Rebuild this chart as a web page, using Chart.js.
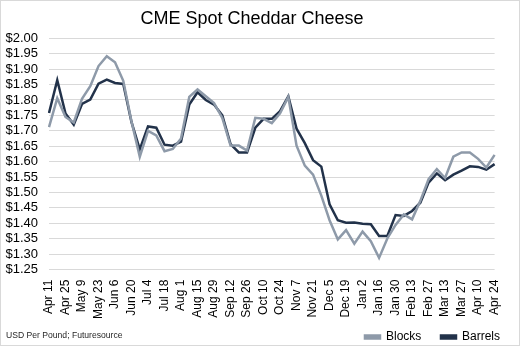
<!DOCTYPE html>
<html>
<head>
<meta charset="utf-8">
<script src="https://cdn.jsdelivr.net/npm/chart.js@4"></script>
<style>
  body { margin: 0; background: #fff; }
  #wrap { position: relative; width: 520px; height: 346px; box-sizing: border-box; border: 1px solid #d9d9d9; }
  #nota { position: absolute; left: 5px; top: 329px; font: 8.6px "Liberation Sans", Arial, sans-serif; color: #262626; }
</style>
</head>
<body>
<div id="wrap">
  <canvas id="grafico" width="518" height="344"></canvas>
  <div id="nota">USD Per Pound; Futuresource</div>
</div>
<script>
// semanas (se etiqueta una de cada dos)
const semanas = [
  'Apr 11', 'Apr 18', 'Apr 25', 'May 2', 'May 9', 'May 16', 'May 23', 'May 30',
  'Jun 6', 'Jun 13', 'Jun 20', 'Jun 27', 'Jul 4', 'Jul 11', 'Jul 18', 'Jul 25',
  'Aug 1', 'Aug 8', 'Aug 15', 'Aug 22', 'Aug 29', 'Sep 5', 'Sep 12', 'Sep 19',
  'Sep 26', 'Oct 3', 'Oct 10', 'Oct 17', 'Oct 24', 'Oct 31', 'Nov 7', 'Nov 14',
  'Nov 21', 'Nov 28', 'Dec 5', 'Dec 12', 'Dec 19', 'Dec 26', 'Jan 2', 'Jan 9',
  'Jan 16', 'Jan 23', 'Jan 30', 'Feb 6', 'Feb 13', 'Feb 20', 'Feb 27', 'Mar 6',
  'Mar 13', 'Mar 20', 'Mar 27', 'Apr 3', 'Apr 10', 'Apr 17', 'Apr 24'
];

const blocks = [
  1.712, 1.806, 1.745, 1.727, 1.804, 1.845, 1.910, 1.942, 1.922, 1.862,
  1.730, 1.616, 1.700, 1.685, 1.634, 1.641, 1.675, 1.810, 1.834, 1.812,
  1.790, 1.742, 1.652, 1.652, 1.636, 1.742, 1.739, 1.725, 1.757, 1.810,
  1.652, 1.587, 1.558, 1.490, 1.410, 1.348, 1.378, 1.334, 1.373, 1.342,
  1.288, 1.351, 1.395, 1.429, 1.413, 1.473, 1.543, 1.576, 1.547, 1.616,
  1.630, 1.630, 1.609, 1.581, 1.622
];

const barrels = [
  1.758, 1.864, 1.756, 1.720, 1.787, 1.801, 1.853, 1.866, 1.855, 1.852,
  1.728, 1.640, 1.714, 1.710, 1.655, 1.652, 1.665, 1.785, 1.825, 1.800,
  1.785, 1.750, 1.657, 1.630, 1.630, 1.710, 1.739, 1.739, 1.764, 1.812,
  1.707, 1.660, 1.605, 1.584, 1.462, 1.410, 1.402, 1.403, 1.399, 1.397,
  1.359, 1.359, 1.427, 1.424, 1.440, 1.467, 1.532, 1.562, 1.540, 1.558,
  1.571, 1.585, 1.583, 1.574, 1.592
];

// marcas del eje de precios
const preciosEje = [1.25, 1.30, 1.35, 1.40, 1.45, 1.50, 1.55, 1.60, 1.65, 1.70, 1.75, 1.80, 1.85, 1.90, 1.95, 2.00];

const colorBlocks = '#8e9aa9';
const colorBarrels = '#22324a';

const ctx = document.getElementById('grafico').getContext('2d');

new Chart(ctx, {
  type: 'line',
  data: {
    labels: semanas,
    datasets: [
      {
        label: 'Blocks',
        data: blocks,
        borderColor: colorBlocks,
        backgroundColor: colorBlocks,
        borderWidth: 2.5,
        pointRadius: 0,
        tension: 0,
        fill: false
      },
      {
        label: 'Barrels',
        data: barrels,
        borderColor: colorBarrels,
        backgroundColor: colorBarrels,
        borderWidth: 2.5,
        pointRadius: 0,
        tension: 0,
        fill: false
      }
    ]
  },
  options: {
    responsive: false,
    animation: false,
    devicePixelRatio: 1,
    layout: { padding: { left: 0, right: 16, top: 0, bottom: -8 } },
    plugins: {
      title: {
        display: true,
        text: 'CME Spot Cheddar Cheese',
        color: '#000',
        font: { family: '"Liberation Sans", Arial, sans-serif', size: 18, weight: 'normal' },
        padding: { top: 7, bottom: 8.7 }
      },
      legend: {
        position: 'bottom',
        align: 'end',
        labels: {
          color: '#000',
          font: { family: '"Liberation Sans", Arial, sans-serif', size: 12 },
          boxWidth: 15,
          boxHeight: 3,
          padding: 3,
          generateLabels: function (chart) {
            const items = Chart.defaults.plugins.legend.labels.generateLabels(chart);
            items[0].text = items[0].text + '     ';
            return items;
          }
        }
      },
      tooltip: { enabled: false }
    },
    scales: {
      x: {
        afterFit: function (scale) { scale.height = 58.4; },
        grid: { display: false, drawTicks: false },
        border: { display: false },
        ticks: {
          autoSkip: false,
          minRotation: 90,
          maxRotation: 90,
          padding: 10,
          color: '#000',
          font: { family: '"Liberation Sans", Arial, sans-serif', size: 12 },
          callback: function (val, i) {
            return i % 2 === 0 ? this.getLabelForValue(val) : '';
          }
        }
      },
      y: {
        min: 1.25,
        max: 2.00,
        afterFit: function (scale) { scale.width = 48; },
        afterBuildTicks: function (scale) {
          scale.ticks = preciosEje.map(v => ({ value: v }));
        },
        grid: { color: '#d9d9d9', lineWidth: 1, drawTicks: false },
        border: { display: false },
        ticks: {
          autoSkip: false,
          padding: 11,
          color: '#000',
          font: { family: '"Liberation Sans", Arial, sans-serif', size: 13 },
          callback: v => '$' + v.toFixed(2)
        }
      }
    }
  }
});
</script>
</body>
</html>
